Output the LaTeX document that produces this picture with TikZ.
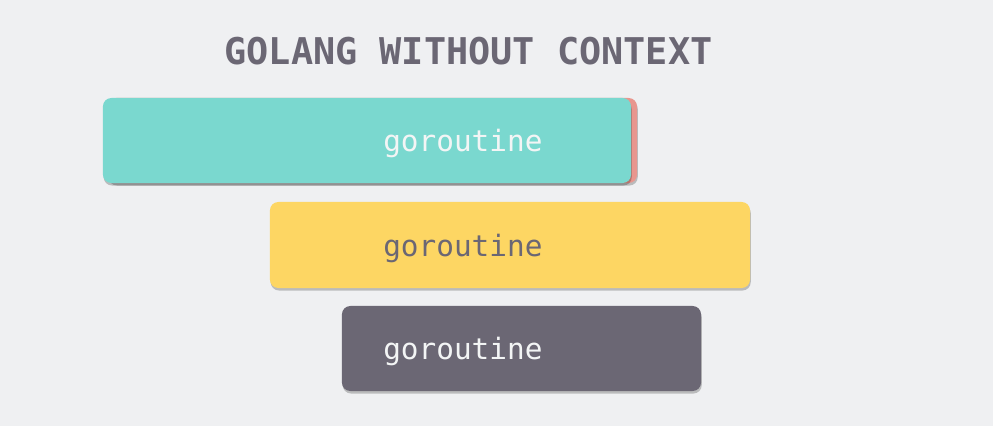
\documentclass[tikz,border=0pt]{standalone}
\usepackage{fontspec}
\setmonofont{DejaVu Sans Mono}
\usetikzlibrary{shadows}
\definecolor{bgcol}{HTML}{EFF0F2}
\definecolor{tealcol}{HTML}{7AD8CF}
\definecolor{redcol}{HTML}{E8968E}
\definecolor{yellowcol}{HTML}{FDD663}
\definecolor{slatecol}{HTML}{6B6774}
\definecolor{lighttext}{HTML}{F3F5F5}
\begin{document}
\begin{tikzpicture}[
    x=0.025cm, y=-0.025cm,
    every node/.style={font=\ttfamily},
    bar/.style={rounded corners=6pt, minimum height=2.125cm, inner sep=0pt,
        drop shadow={shadow xshift=0.5pt, shadow yshift=-1.8pt, fill=black, opacity=0.22}},
    bartext/.style={anchor=base west, inner sep=0pt, font=\fontsize{20.9}{24}\ttfamily},
    title/.style={anchor=base, inner sep=0pt, text=slatecol, font=\fontsize{26.2}{30}\ttfamily\bfseries},
]

% Background and bounds
\useasboundingbox[fill=bgcol] (0,0) rectangle (993,426);

% Title
\node[title] (heading) at (468.5, 64.5) {GOLANG WITHOUT CONTEXT};

% Bar 1: teal, red edge behind
\node[bar, fill=redcol, minimum width=13.225cm] (redback) at (372.5, 140.5) {};
\node[bar, fill=tealcol, minimum width=13.2cm] (tealbox) at (367, 140.5) {};
\node[bartext, text=lighttext] (tealtext) at (383, 151.7) {goroutine};

% Bar 2: yellow
\node[bar, fill=yellowcol, minimum width=12cm, minimum height=2.15cm] (yellowbox) at (510, 245) {};
\node[bartext, text=slatecol] (yellowtext) at (383, 256.5) {goroutine};

% Bar 3: slate
\node[bar, fill=slatecol, minimum width=8.975cm] (slatebox) at (521.5, 348.5) {};
\node[bartext, text=lighttext] (slatetext) at (383, 359.3) {goroutine};

\end{tikzpicture}
\end{document}
